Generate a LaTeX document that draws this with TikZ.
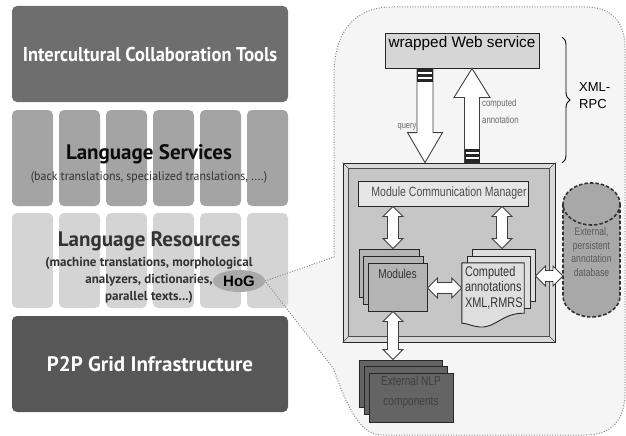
\documentclass[tikz,border=0pt]{standalone}
\usepackage{fontspec}
\setmainfont{Liberation Sans}
\newfontfamily\condfont[FakeStretch=0.92]{PT Sans}
\newfontfamily\layerfont{PT Sans}
\newfontfamily\subfont[FakeStretch=0.95]{PT Sans}
\newfontfamily\narrowfont[FakeStretch=0.78]{Liberation Sans}
\usepackage{tikz}
\usetikzlibrary{calc, shapes.geometric, decorations.pathreplacing}

\definecolor{toolgray}{HTML}{6E6E6E}
\definecolor{svcgray}{HTML}{A4A4A4}
\definecolor{resgray}{HTML}{D4D4D4}
\definecolor{gridgray}{HTML}{575757}
\definecolor{panelgray}{HTML}{F5F5F5}
\definecolor{edgegray}{HTML}{8C8C8C}
\definecolor{hoggray}{HTML}{A9A9A9}
\definecolor{wsgray}{HTML}{D6D6D6}
\definecolor{framegray}{HTML}{DADADA}
\definecolor{mgrgray}{HTML}{C6C6C6}
\definecolor{mcmgray}{HTML}{E6E6E6}
\definecolor{modgray}{HTML}{B4B4B4}
\definecolor{cmpgray}{HTML}{DEDEDE}
\definecolor{dbgray}{HTML}{A8A8A8}
\definecolor{nlpgray}{HTML}{646464}
\definecolor{labelgray}{HTML}{6A6A6A}

\tikzset{
    layerbox/.style={rectangle, rounded corners=5pt, minimum width=276pt, minimum height=96pt, inner sep=0pt},
    colbox/.style={rectangle, rounded corners=5pt, minimum width=41pt, inner sep=0pt},
    layertitle/.style={font=\layerfont\bfseries\fontsize{21}{22}\selectfont, inner sep=0pt},
    layersub/.style={font=\subfont\fontsize{12.5}{16.5}\selectfont, text=black!80, inner sep=0pt, align=center},
    hogell/.style={ellipse, fill=hoggray, minimum width=52pt, minimum height=22pt, inner sep=0pt,
        font=\bfseries\fontsize{15}{15}\selectfont},
    paneledge/.style={draw=edgegray, line width=1pt, dash pattern=on 1pt off 1.6pt},
    plainbox/.style={rectangle, draw=black!85, line width=0.9pt, inner sep=0pt},
    stackbox/.style={plainbox, fill=#1},
    rtext/.style={font=\narrowfont\fontsize{#1}{#1}\selectfont, inner sep=0pt},
    hollow/.style={draw=black!75, fill=white, line width=0.9pt, line join=miter},
    dbline/.style={draw=black!80, line width=1.6pt, dash pattern=on 3.5pt off 2pt},
    % vertical hollow double arrow, top to bottom
    vdbl/.style={hollow, to path={let \p1=(\tikztostart), \p2=(\tikztotarget) in
        (\x1,\y1) -- (\x1+10pt,\y1-10pt) -- (\x1+5.5pt,\y1-10pt) -- (\x1+5.5pt,\y2+10pt)
        -- (\x1+10pt,\y2+10pt) -- (\x1,\y2) -- (\x1-10pt,\y2+10pt) -- (\x1-5.5pt,\y2+10pt)
        -- (\x1-5.5pt,\y1-10pt) -- (\x1-10pt,\y1-10pt) -- cycle}},
    % horizontal hollow double arrow, left to right
    hdbl/.style={hollow, to path={let \p1=(\tikztostart), \p2=(\tikztotarget) in
        (\x1,\y1) -- (\x1+10pt,\y1+10pt) -- (\x1+10pt,\y1+5.5pt) -- (\x2-10pt,\y1+5.5pt)
        -- (\x2-10pt,\y1+10pt) -- (\x2,\y1) -- (\x2-10pt,\y1-10pt) -- (\x2-10pt,\y1-5.5pt)
        -- (\x1+10pt,\y1-5.5pt) -- (\x1+10pt,\y1-10pt) -- cycle}},
    % big hollow single arrow, from start to tip
    bigdown/.style={hollow, to path={let \p1=(\tikztostart), \p2=(\tikztotarget) in
        (\x1-8pt,\y1) -- (\x1+8pt,\y1) -- (\x1+8pt,\y2+30pt) -- (\x1+17.5pt,\y2+30pt)
        -- (\x1,\y2) -- (\x1-17.5pt,\y2+30pt) -- (\x1-8pt,\y2+30pt) -- cycle}},
    bigup/.style={hollow, to path={let \p1=(\tikztostart), \p2=(\tikztotarget) in
        (\x1-7.5pt,\y1) -- (\x1+7.5pt,\y1) -- (\x1+7.5pt,\y2-29pt) -- (\x1+18pt,\y2-29pt)
        -- (\x1,\y2) -- (\x1-18pt,\y2-29pt) -- (\x1-7.5pt,\y2-29pt) -- cycle}}
}

\newcommand\panelpath{(tip) -- (334,257) -- (334,75) .. controls (334,35) and (352,7) .. (392,7)
    -- (585,7) .. controls (612,7) and (625,22) .. (625,48) -- (625,392)
    .. controls (625,420) and (612,435) .. (585,435) -- (382,435)
    .. controls (358,435) and (346,402) .. (333,368) -- cycle}

\begin{document}
\begin{tikzpicture}[x=1pt, y=-1pt]

    \useasboundingbox (0,0) rectangle (626,436);
    \coordinate (tip) at (265,281);

    % zoom region behind the layers
    \fill[panelgray] \panelpath;

    % layer stack
    \node[layerbox, fill=toolgray] (ict) at (150,54) {};
    \node[layertitle, text=white, font=\condfont\bfseries\fontsize{20}{22}\selectfont] (ictt) at (ict) {Intercultural Collaboration Tools};

    \foreach \i in {1,...,6} {
        \node[colbox, fill=svcgray, minimum height=96pt] (svc\i) at ({32.5+47*(\i-1)},158) {};
        \node[colbox, fill=resgray, minimum height=95pt] (res\i) at ({32.5+47*(\i-1)},260.5) {};
    }
    \node[layertitle, text=black!95] (svct) at (149,154) {Language Services};
    \node[layersub] (svcs) at (149,177) {(back translations, specialized translations, ....)};

    \node[layertitle, text=black!80] (rest) at (149,241) {Language Resources};
    \node[layersub, font=\layerfont\bfseries\fontsize{13}{17}\selectfont] (ress) at (149,280) {(machine translations, morphological\\analyzers, dictionaries,\\parallel texts...)};

    \node[layerbox, fill=gridgray] (p2p) at (150,364) {};
    \node[layertitle, text=white] (p2pt) at (p2p) {P2P Grid Infrastructure};

    \draw[paneledge] \panelpath;
    \node[hogell] (hog) at (239,281) {HoG};

    % web service and XML-RPC
    \node[plainbox, fill=wsgray, minimum width=154pt, minimum height=35pt] (ws) at (462,50.5) {};
    \node[anchor=north, inner sep=0pt, font=\fontsize{15.3}{15.3}\selectfont] (wst) at ($(ws.north)+(0,4)$) {wrapped Web service};
    \draw[decorate, decoration={brace, amplitude=8pt}, line width=0.9pt] (562,37) -- (562,163);
    \node[anchor=west, align=left, inner sep=0pt, font=\fontsize{13}{17}\selectfont] (xml) at (579,96) {XML-\\RPC};

    % manager frame
    \node[plainbox, fill=framegray, minimum width=212pt, minimum height=179pt] (mgr) at (449,252.5) {};
    \draw[draw=black!70, fill=mgrgray, line width=0.8pt] ($(mgr.north west)+(6,6)$) rectangle ($(mgr.south east)+(-6,-6)$);
    \draw[black!70, line width=0.6pt] (mgr.north west) -- ++(6,6) (mgr.north east) -- ++(-6,6)
        (mgr.south west) -- ++(6,-6) (mgr.south east) -- ++(-6,-6);

    % query / computed annotation
    \coordinate (qx) at (425,0);
    \coordinate (cx) at (472,0);
    \draw[bigdown] (ws.south -| qx) to (mgr.north -| qx);
    \draw[bigup] (mgr.north -| cx) to (ws.south -| cx);
    \fill[black!85] ($(ws.south -| qx)+(-8,0)$) rectangle ++(16,14);
    \fill[black!85] ($(mgr.north -| cx)+(-7.5,0)$) rectangle ++(15,-14);
    \foreach \d in {4.5,9.5} {
        \draw[white, line width=1.4pt] ($(ws.south -| qx)+(-7,\d)$) -- ++(14,0);
        \draw[white, line width=1.4pt] ($(mgr.north -| cx)+(-6.5,-\d)$) -- ++(13,0);
    }
    \node[rtext=9.5, text=labelgray] (qlab) at (407,127) {query};
    \node[rtext=10, text=labelgray, anchor=west, align=left, font=\narrowfont\fontsize{10}{17}\selectfont] (clab) at (482,111) {computed\\annotation};

    % inside the manager
    \node[plainbox, fill=mcmgray, minimum width=170pt, minimum height=25pt] (mcm) at (443,193.5) {};
    \node[rtext=13.5, text=black!70] (mcmt) at ($(mcm)+(6,0)$) {Module Communication Manager};

    \node[stackbox=modgray, minimum width=60pt, minimum height=48pt] (mod3) at (389,273) {};
    \node[stackbox=modgray, minimum width=60pt, minimum height=48pt] (mod2) at (393.5,280) {};
    \node[stackbox=modgray, minimum width=59pt, minimum height=48pt] (mod1) at (397.5,287) {};
    \node[rtext=13, text=black!80, anchor=north] (modt) at ($(mod1.north)+(0,6)$) {Modules};

    \node[stackbox=cmpgray, minimum width=63pt, minimum height=52pt] (cmp3) at (503.5,275) {};
    \node[stackbox=cmpgray, minimum width=63pt, minimum height=52pt] (cmp2) at (498.5,282) {};
    \node[rectangle, minimum width=62pt, minimum height=50pt, inner sep=0pt] (cmp1) at (493,288) {};
    \draw[plainbox, fill=cmpgray] (cmp1.north west) -- (cmp1.north east) -- (cmp1.south east)
        .. controls (502,313) and (496,328) .. (480,327) .. controls (471,326) and (466,323) .. ($(cmp1.south west)+(0,10)$) -- cycle;
    \node[rtext=14, text=black!80, anchor=north west, align=left, font=\narrowfont\fontsize{14}{15.5}\selectfont] (cmpt) at ($(cmp1.north west)+(3,3)$) {Computed\\annotations\\XML,RMRS};

    % external database
    \fill[dbgray] (563,204) rectangle (620,296);
    \fill[dbgray] (591.5,296) ellipse[x radius=28.5, y radius=21];
    \draw[dbline, fill=dbgray] (591.5,204) ellipse[x radius=28.5, y radius=21];
    \draw[dbline] (563,204) -- (563,296) arc[start angle=180, end angle=0, x radius=28.5, y radius=21] -- (620,204);
    \node[rtext=11, text=black!65, align=center, font=\narrowfont\fontsize{11}{13.5}\selectfont] (db) at (591.5,252) {External,\\persistent\\annotation\\database};

    % external NLP components
    \node[stackbox=nlpgray, minimum width=83pt, minimum height=47pt] (nlp3) at (400.5,383.5) {};
    \node[stackbox=nlpgray, minimum width=83pt, minimum height=48pt] (nlp2) at (405.5,390) {};
    \node[stackbox=nlpgray, minimum width=84pt, minimum height=49pt] (nlp1) at (411,397.5) {};
    \node[rtext=13, text=black!75, align=center, font=\narrowfont\fontsize{13}{20}\selectfont] (nlpt) at (411,392) {External NLP\\components};

    % module connections
    \coordinate (ax) at (393,0);
    \coordinate (bx) at (502,0);
    \coordinate (ay) at (0,288);
    \coordinate (by) at (0,276);
    \draw[vdbl] (mcm.south -| ax) to (mod3.north -| ax);
    \draw[vdbl] (mcm.south -| bx) to (cmp3.north -| bx);
    \draw[hdbl] (mod1.east |- ay) to (cmp1.west |- ay);
    \draw[hdbl] (cmp3.east |- by) to (563,276);
    \draw[vdbl] (mod1.south -| ax) to (nlp3.north -| ax);

\end{tikzpicture}
\end{document}
